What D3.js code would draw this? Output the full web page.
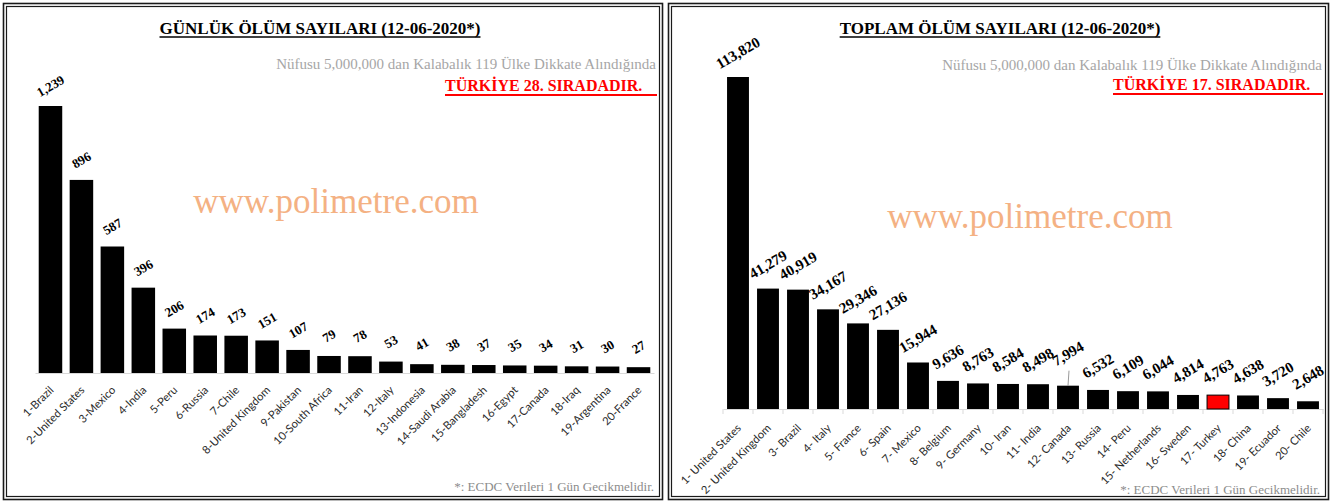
<!DOCTYPE html>
<html>
<head>
<meta charset="utf-8">
<script src="https://d3js.org/d3.v7.min.js"></script>
<style type="text/css">
* { box-sizing:border-box; }
body { margin:0; background:#fff; }
.title { font-family:'Liberation Serif', 'Times New Roman', serif; font-weight:bold; font-size:17px; }
.sub { font-family:'Liberation Serif', 'Times New Roman', serif; font-size:15px; fill:#a6a6a6; }
.rank { font-family:'Liberation Serif', 'Times New Roman', serif; font-weight:bold; font-size:16px; fill:#ff0000; }
.mark { font-family:'Liberation Serif', 'Times New Roman', serif; font-size:35px; fill:#f4b183; }
.foot { font-family:'Liberation Serif', 'Times New Roman', serif; font-size:13px; fill:#8c8c8c; }
.val { font-family:'Liberation Serif', 'Times New Roman', serif; font-weight:bold; fill:#000; }
.xlab { font-family:Lato, 'Open Sans', sans-serif; font-size:11.2px; fill:#2b2b2b; }
</style>
</head>
<body>
<div id="chart"></div>

<script>
// daily deaths (left panel)
var dailyCountries = ["1-Brazil","2-United States","3-Mexico","4-India","5-Peru","6-Russia","7-Chile",
  "8-United Kingdom","9-Pakistan","10-South Africa","11-Iran","12-Italy","13-Indonesia","14-Saudi Arabia",
  "15-Bangladesh","16-Egypt","17-Canada","18-Iraq","19-Argentina","20-France"];
var dailyDeaths = [1239,896,587,396,206,174,173,151,107,79,78,53,41,38,37,35,34,31,30,27];

// total deaths (right panel)
var totalCountries = ["1- United States","2- United Kingdom","3- Brazil","4- Italy","5- France","6- Spain",
  "7- Mexico","8- Belgium","9- Germany","10- Iran","11- India","12- Canada","13- Russia","14- Peru",
  "15- Netherlands","16- Sweden","17- Turkey","18- China","19- Ecuador","20- Chile"];
var totalDeaths = [113820,41279,40919,34167,29346,27136,15944,9636,8763,8584,8498,7994,6532,6109,6044,4814,4763,4638,3720,2648];

var subText = "Nüfusu 5,000,000 dan Kalabalık 119 Ülke Dikkate Alındığında";
var footText = "*: ECDC Verileri 1 Gün Gecikmelidir.";
var fmt = d3.format(",");

var svg = d3.select("#chart")
  .append("svg")
    .attr("width", 1330)
    .attr("height", 502);

function panel(o) {
  var g = svg.append("g");

  // double frame
  g.append("rect")
    .attr("x", o.left + 0.5).attr("y", 3.5)
    .attr("width", o.right - o.left).attr("height", 496)
    .attr("fill", "none").attr("stroke", "#1a1a1a").attr("stroke-width", 1.6);
  g.append("rect")
    .attr("x", o.left + 3.5).attr("y", 6.5)
    .attr("width", o.right - o.left - 6).attr("height", 490)
    .attr("fill", "none").attr("stroke", "#1a1a1a").attr("stroke-width", 1.2);

  // title
  var t = g.append("text").attr("class", "title")
    .attr("x", o.titleX).attr("y", 34)
    .attr("text-anchor", "middle")
    .text(o.title);
  var tb = t.node().getBBox();
  g.append("line")
    .attr("x1", tb.x).attr("x2", tb.x + tb.width)
    .attr("y1", 37).attr("y2", 37)
    .attr("stroke", "#000").attr("stroke-width", 1.3);

  g.append("text").attr("class", "sub")
    .attr("x", o.right - 6).attr("y", o.subY)
    .attr("text-anchor", "end")
    .text(subText);

  g.append("text").attr("class", "rank")
    .attr("x", o.rankX).attr("y", o.rankY)
    .text(o.rank);
  g.append("line")
    .attr("x1", o.rankX).attr("x2", o.right - 5)
    .attr("y1", o.rankY + 4).attr("y2", o.rankY + 4)
    .attr("stroke", "#ff0000").attr("stroke-width", 2);

  g.append("text").attr("class", "mark")
    .attr("x", o.markX).attr("y", o.markY)
    .attr("text-anchor", "middle")
    .text("www.polimetre.com");

  g.append("text").attr("class", "foot")
    .attr("x", o.right - 8).attr("y", o.footY)
    .attr("text-anchor", "end")
    .text(footText);

  // scales
  var x = d3.scaleBand()
    .domain(o.cats)
    .range(o.xRange)
    .paddingInner(o.pad)
    .paddingOuter(o.pad / 2);
  var y = d3.scaleLinear()
    .domain([0, d3.max(o.vals)])
    .range([o.base, o.top]);

  // axis
  var ax = g.append("g")
    .attr("transform", "translate(0," + o.base + ")")
    .call(d3.axisBottom(x).tickSize(0).tickFormat(""));
  ax.select(".domain").attr("stroke", "#d9d9d9").attr("stroke-width", 1);
  if (o.ticks) {
    var edges = o.cats.map(function(c) { return x(c) - x.step() * x.paddingInner() / 2; });
    edges.push(o.xRange[1]);
    g.selectAll(".tk").data(edges).enter().append("line")
      .attr("x1", function(d) { return d; }).attr("x2", function(d) { return d; })
      .attr("y1", o.base).attr("y2", o.base + 5)
      .attr("stroke", "#d9d9d9");
  }

  // bars
  g.selectAll(".bar")
    .data(o.vals)
    .enter()
    .append("rect")
      .attr("x", function(d, i) { return x(o.cats[i]); })
      .attr("y", function(d) { return y(d); })
      .attr("width", x.bandwidth())
      .attr("height", function(d) { return o.base - y(d); })
      .attr("fill", function(d, i) { return i === o.hi ? "#ff0000" : "#000"; })
      .attr("stroke", function(d, i) { return i === o.hi ? "#000" : "none"; })
      .attr("stroke-width", 1);

  // value labels
  g.selectAll(".val")
    .data(o.vals)
    .enter()
    .append("text")
      .attr("class", "val")
      .style("font-size", o.valSize + "px")
      .attr("text-anchor", "middle")
      .attr("dominant-baseline", "central")
      .attr("transform", function(d, i) {
        var lift = i === o.leader ? o.lift + 8 : o.lift;
        return "translate(" + (x(o.cats[i]) + x.bandwidth() / 2) + "," + (y(d) - lift) + ") rotate(-30)";
      })
      .text(function(d) { return fmt(d); });

  if (o.leader != null) {
    var lc = x(o.cats[o.leader]) + x.bandwidth() / 2;
    var ly = y(o.vals[o.leader]);
    g.append("line")
      .attr("x1", lc).attr("x2", lc + 1)
      .attr("y1", ly).attr("y2", ly - 15)
      .attr("stroke", "#7f7f7f").attr("stroke-width", 0.8);
  }

  // category labels
  g.selectAll(".xlab")
    .data(o.cats)
    .enter()
    .append("text")
      .attr("class", "xlab")
      .attr("text-anchor", "end")
      .attr("dy", "0.35em")
      .attr("transform", function(d) {
        return "translate(" + (x(d) + x.bandwidth() / 2 + 1) + "," + (o.base + o.labDrop) + ") rotate(-45)";
      })
      .text(function(d) { return d; });
}

panel({
  left: 3, right: 662,
  title: "GÜNLÜK ÖLÜM SAYILARI  (12-06-2020*)", titleX: 320,
  subY: 69, rank: "TÜRKİYE 28. SIRADADIR.", rankX: 445, rankY: 91,
  markX: 336, markY: 213, footY: 491,
  cats: dailyCountries, vals: dailyDeaths,
  xRange: [35, 654], pad: 0.24, base: 373, top: 106,
  valSize: 13, lift: 20, ticks: false, hi: -1, leader: null, labDrop: 15
});

panel({
  left: 668, right: 1328,
  title: "TOPLAM ÖLÜM SAYILARI  (12-06-2020*)", titleX: 1000,
  subY: 70, rank: "TÜRKİYE 17. SIRADADIR.", rankX: 1113, rankY: 90,
  markX: 1030, markY: 228, footY: 494,
  cats: totalCountries, vals: totalDeaths,
  xRange: [723, 1323], pad: 0.27, base: 409, top: 77,
  valSize: 15, lift: 24, ticks: true, hi: 16, leader: 11, labDrop: 17
});
</script>
</body>
</html>
